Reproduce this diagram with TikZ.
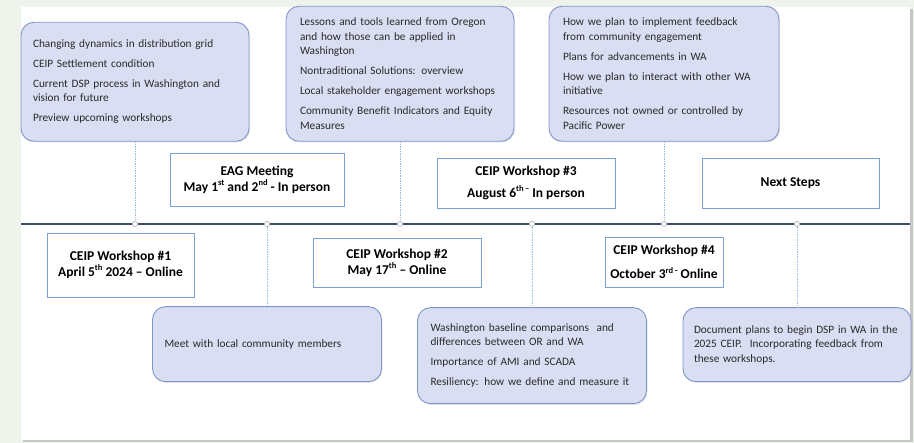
\documentclass[tikz,border=0pt]{standalone}
\usepackage{fontspec}
\setmainfont{Carlito}
\usepackage{tikz}
\usetikzlibrary{positioning,shadows}
\definecolor{pagebg}{HTML}{EEF3EB}
\definecolor{callfill}{HTML}{D9DEF2}
\definecolor{calldraw}{HTML}{7F96CB}
\definecolor{evdraw}{HTML}{7B9FDA}
\definecolor{axis}{HTML}{3E4E6C}
\definecolor{stemc}{HTML}{9DB8E6}
\definecolor{txt}{HTML}{2A2A2A}
\newcommand{\ord}[1]{\raisebox{0.42em}{\fontsize{8.5}{8.5}\selectfont #1}}
\tikzstyle{callout}=[rectangle,rounded corners=13pt,line width=0.9pt,draw=calldraw,
fill=callfill,text=txt,align=left,inner xsep=13pt,inner ysep=4pt,
font=\fontsize{11.3}{14.5}\selectfont,
drop shadow={opacity=0.18,shadow xshift=1pt,shadow yshift=-1.2pt}]
\tikzstyle{event}=[rectangle,line width=0.8pt,draw=evdraw,fill=white,text=black,
align=center,inner sep=2pt,font=\fontsize{13.5}{16}\selectfont\bfseries]
\tikzstyle{tick}=[circle,draw=gray!60,fill=white,line width=0.5pt,inner sep=0pt,minimum size=5pt]
\tikzstyle{stem}=[densely dotted,draw=stemc,line width=0.7pt]

\begin{document}
\begin{tikzpicture}[x=1pt,y=1pt]
            % page and panel
            \fill[pagebg] (0,0) rectangle (914,443);
            \fill[gray!45] (23,0.5) rectangle (913,434);
            \fill[white] (21,3) rectangle (910,436);
            \useasboundingbox (0,0) rectangle (914,443);

            % timeline
            \coordinate (tl0) at (21,219);
            \coordinate (tl1) at (910,219);
            \draw[axis,line width=1.2pt] (tl0) -- (tl1);

            \node[tick] (m1) at (135,219) {};
            \node[tick] (m2) at (267,219) {};
            \node[tick] (m3) at (400,219) {};
            \node[tick] (m4) at (532,219) {};
            \node[tick] (m5) at (664,219) {};
            \node[tick] (m6) at (797,219) {};

            % callouts above
            \node[callout,above=79.5pt of m1,text width=204pt,minimum height=119pt,inner xsep=12pt] (sumA) {Changing dynamics in distribution grid\\[5.5pt]
                CEIP Settlement condition\\[5.5pt]
                Current DSP process in Washington and\\ vision for future\\[5.5pt]
                Preview upcoming workshops};
            \node[callout,above=79.5pt of m3,text width=200pt,minimum height=135pt,inner xsep=14pt] (sumB) {Lessons and tools learned from Oregon\\ and how those can be applied in\\ Washington\\[5.5pt]
                Nontraditional Solutions: overview\\[5.5pt]
                Local stakeholder engagement workshops\\[5.5pt]
                Community Benefit Indicators and Equity\\ Measures};
            \node[callout,above=79.5pt of m5,text width=202pt,minimum height=135pt,inner xsep=14pt] (sumC) {How we plan to implement feedback\\ from community engagement\\[5.5pt]
                Plans for advancements in WA\\[5.5pt]
                How we plan to interact with other WA\\ initiative\\[5.5pt]
                Resources not owned or controlled by\\ Pacific Power};

            % callouts below
            \node[callout,below=79.5pt of m2,text width=205pt,minimum height=75pt,inner xsep=12pt] (sumD) {Meet with local community members};
            \node[callout,below=80.5pt of m4,text width=203pt,minimum height=96pt,inner xsep=13pt] (sumE) {Washington baseline comparisons~ and\\ differences between OR and WA\\[5.5pt]
                Importance of AMI and SCADA\\[5.5pt]
                Resiliency: how we define and measure it};
            \node[callout,below=80.5pt of m6,text width=206pt,minimum height=74pt,inner xsep=11pt] (sumF) {Document plans to begin DSP in WA in the\\ 2025 CEIP.~ Incorporating feedback from\\ these workshops.};

            % stems
            \draw[stem] (m1) -- (sumA);
            \draw[stem] (m3) -- (sumB);
            \draw[stem] (m5) -- (sumC);
            \draw[stem] (m2) -- (sumD);
            \draw[stem] (m4) -- (sumE);
            \draw[stem] (m6) -- (sumF);
            \node[tick] at (m1) {};
            \node[tick] at (m2) {};
            \node[tick] at (m3) {};
            \node[tick] at (m4) {};
            \node[tick] at (m5) {};
            \node[tick] at (m6) {};

            % events
            \node[event,minimum width=174pt,minimum height=53pt] (eag) at (257,263.5) {EAG Meeting\\ May 1\ord{st} and 2\ord{nd} - In person};
            \node[event,minimum width=178pt,minimum height=50pt] (ws3) at (526,260) {CEIP Workshop \#3\\[6pt] August 6\ord{th\,--} In person};
            \node[event,minimum width=177pt,minimum height=50pt] (next) at (790.5,260) {Next Steps};
            \node[event,minimum width=147pt,minimum height=64pt] (ws1) at (120.5,178) {CEIP Workshop \#1\\ April 5\ord{th} 2024 -- Online};
            \node[event,minimum width=168pt,minimum height=49pt] (ws2) at (397,180.5) {CEIP Workshop \#2\\ May 17\ord{th} -- Online};
            \node[event,minimum width=118pt,minimum height=50pt] (ws4) at (664,181) {CEIP Workshop \#4\\[8pt] October 3\ord{rd -} Online};

        \end{tikzpicture}
\end{document}
